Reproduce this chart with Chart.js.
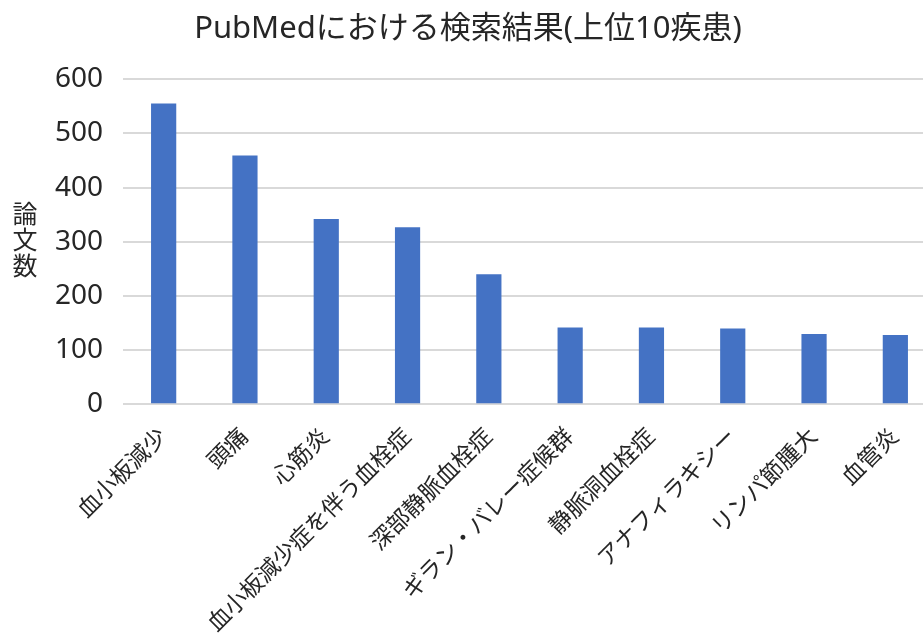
<!DOCTYPE html>
<html>
<head>
<meta charset="utf-8">
<script src="https://cdn.jsdelivr.net/npm/chart.js@4"></script>
<style>
  html, body { margin: 0; padding: 0; background: #ffffff; overflow: hidden; }
  #wrap { position: relative; width: 936px; height: 657px; }
</style>
</head>
<body>
<div id="wrap"><canvas id="c"></canvas></div>
<script>
const categories = ['血小板減少', '頭痛', '心筋炎', '血小板減少症を伴う血栓症', '深部静脈血栓症', 'ギラン・バレー症候群', '静脈洞血栓症', 'アナフィラキシー', 'リンパ節腫大', '血管炎'];
const paperCounts = [555, 459, 342, 327, 240, 142, 142, 140, 130, 128];
const yTicks = [0, 100, 200, 300, 400, 500, 600];
const chartTitle = 'PubMedにおける検索結果(上位10疾患)';
const yAxisTitle = ['論', '文', '数'];

const FONT = '"Noto Sans", "Noto Sans CJK JP", sans-serif';
const TEXT = '#262626';

const yTitlePlugin = {
  id: 'yTitleStack',
  afterDraw(chart) {
    const ctx = chart.ctx;
    const area = chart.chartArea;
    const size = 25;
    const lh = 26;
    const cy = (area.top + area.bottom) / 2;
    ctx.save();
    ctx.fillStyle = TEXT;
    ctx.font = size + 'px ' + FONT;
    ctx.textAlign = 'center';
    ctx.textBaseline = 'middle';
    const n = yAxisTitle.length;
    yAxisTitle.forEach((ch, i) => {
      ctx.fillText(ch, 25, cy + (i - (n - 1) / 2) * lh);
    });
    ctx.restore();
  }
};

new Chart(document.getElementById('c'), {
  type: 'bar',
  data: {
    labels: categories,
    datasets: [{
      data: paperCounts,
      backgroundColor: '#4472C4',
      borderWidth: 0,
      barPercentage: 1.0,
      categoryPercentage: 0.31
    }]
  },
  options: {
    responsive: true,
    maintainAspectRatio: false,
    animation: false,
    devicePixelRatio: 1,
    layout: { padding: { left: 0, right: 0, top: 0, bottom: 0 } },
    plugins: {
      legend: { display: false },
      tooltip: { enabled: false },
      title: {
        display: true,
        text: chartTitle,
        color: TEXT,
        font: { family: FONT, size: 31, weight: 'normal' },
        padding: { top: 11, bottom: 31 }
      }
    },
    scales: {
      x: {
        grid: { display: false, drawTicks: false },
        border: { display: false },
        ticks: {
          color: TEXT,
          font: { family: FONT, size: 23 },
          minRotation: 45,
          maxRotation: 45,
          autoSkip: false,
          padding: 19
        }
      },
      y: {
        min: 0,
        max: 600,
        afterBuildTicks(scale) { scale.ticks = yTicks.map(v => ({ value: v })); },
        afterFit(scale) { scale.width = 123; },
        grid: { color: '#d9d9d9', lineWidth: 2, drawTicks: false },
        border: { display: false },
        ticks: {
          color: TEXT,
          font: { family: FONT, size: 28 },
          padding: 20
        }
      }
    }
  },
  plugins: [yTitlePlugin]
});
</script>
</body>
</html>
